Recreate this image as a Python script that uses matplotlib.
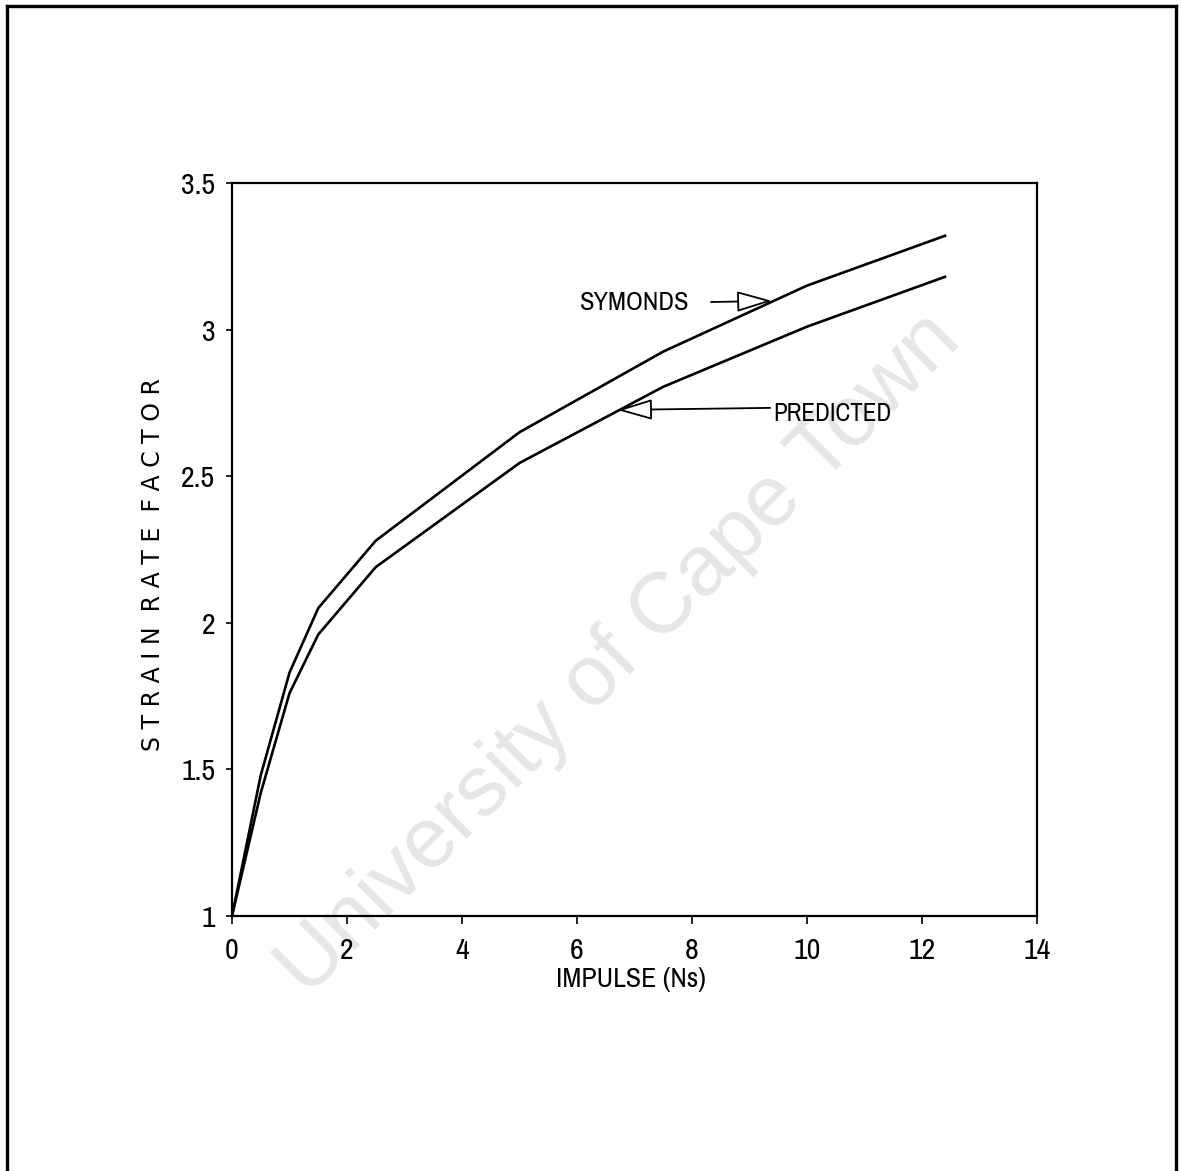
import matplotlib
matplotlib.use("Agg")
import matplotlib.pyplot as plt
from matplotlib.lines import Line2D

# Impulse (Ns) and strain rate factor for both models
impulse = [0, 0.5, 1, 1.5, 2.5, 5, 7.5, 10, 12.4]
symonds = [1.0, 1.48, 1.83, 2.05, 2.28, 2.65, 2.925, 3.15, 3.32]
predicted = [1.0, 1.42, 1.76, 1.96, 2.19, 2.545, 2.805, 3.01, 3.18]

x_ticks = [0, 2, 4, 6, 8, 10, 12, 14]
y_ticks = [1, 1.5, 2, 2.5, 3, 3.5]
y_tick_labels = ["1", "1.5", "2", "2.5", "3", "3.5"]

narrow = ["Archivo Narrow", "Liberation Sans", "DejaVu Sans"]

W, H = 1181, 1171
fig = plt.figure(figsize=(W / 100, H / 100), dpi=100)
fig.patch.set_facecolor("white")

ax = fig.add_axes([232 / W, 1 - 916 / H, (1037 - 232) / W, (916 - 183) / H])
ax.set_facecolor("none")

ax.plot(impulse, symonds, color="black", lw=1.9, zorder=3)
ax.plot(impulse, predicted, color="black", lw=1.9, zorder=3)

ax.set_xlim(0, 14)
ax.set_ylim(1, 3.5)
ax.set_xticks(x_ticks)
ax.set_xticklabels([str(v) for v in x_ticks], fontsize=21.5, family=narrow)
ax.set_yticks(y_ticks)
ax.set_yticklabels(y_tick_labels, fontsize=21.5, family=narrow)
ax.tick_params(axis="x", direction="out", length=6, width=1.2, pad=9)
ax.tick_params(axis="y", direction="out", length=4, width=1.2, pad=8)
for sp in ax.spines.values():
    sp.set_linewidth(1.6)

ax.set_xlabel("IMPULSE (Ns)", fontsize=20, family=narrow)
ax.xaxis.set_label_coords(0.496, -0.069)
ax.set_ylabel("S T R A I N  R A T E  F A C T O R", fontsize=17, family="DejaVu Sans")
ax.yaxis.set_label_coords(-0.083, 0.479)

# Open-headed pointer arrows for the curve labels
arrow_kw = dict(arrowstyle="-|>,head_length=22,head_width=6.5", mutation_scale=1,
                fc="white", ec="black", lw=1.3, shrinkA=0, shrinkB=0)
ax.annotate("", xy=(9.39, 3.098), xytext=(8.33, 3.094), arrowprops=arrow_kw, zorder=4)
ax.annotate("", xy=(6.70, 2.726), xytext=(9.36, 2.733), arrowprops=arrow_kw, zorder=4)
ax.text(7.95, 3.094, "SYMONDS", fontsize=19, family=narrow, ha="right", va="center")
ax.text(9.42, 2.715, "PREDICTED", fontsize=18, family=narrow, ha="left", va="center")

# Page frame
frame_kw = dict(color="black", lw=2.4, transform=fig.transFigure)
fig.add_artist(Line2D([7 / W, 7 / W], [0, 1 - 6 / H], **frame_kw))
fig.add_artist(Line2D([7 / W, 1176 / W], [1 - 6 / H, 1 - 6 / H], **frame_kw))
fig.add_artist(Line2D([1176 / W, 1176 / W], [0, 1 - 6 / H], **frame_kw))

# Repository watermark
fig.text(620 / W, 1 - 655 / H, "University of Cape Town", fontsize=62,
         family="Liberation Sans", color="#e6e6e6", rotation=45,
         ha="center", va="center", zorder=-5)

fig.savefig("out.png", dpi=100, facecolor="white")
